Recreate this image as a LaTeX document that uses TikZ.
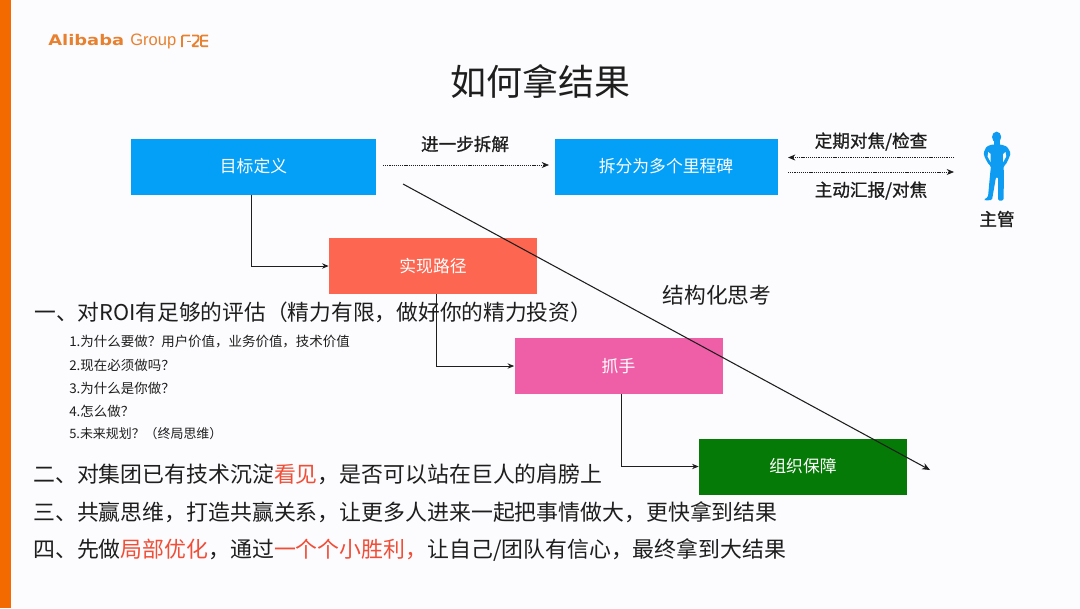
\documentclass[tikz,border=0pt]{standalone}
\usepackage{fontspec}
\setmainfont{Noto Sans CJK SC}
\newfontfamily\capfont[FakeBold=1]{Noto Sans CJK SC}
\newfontfamily\logofont{Liberation Sans}
\newfontfamily\logobold[FakeStretch=1.22]{DejaVu Sans}
\usetikzlibrary{arrows.meta}
\definecolor{bgc}{HTML}{FCFCFE}
\definecolor{barc}{HTML}{F26A00}
\definecolor{logoc}{HTML}{E8812F}
\definecolor{bluec}{HTML}{049FF7}
\definecolor{redc}{HTML}{FD6650}
\definecolor{pinkc}{HTML}{EE5FA7}
\definecolor{greenc}{HTML}{067A06}
\definecolor{txtc}{HTML}{1E1E1E}
\definecolor{hlc}{HTML}{F04E37}
\definecolor{personc}{HTML}{0E9CF2}
\newcommand{\fs}[1]{\fontsize{#1}{#1}\selectfont}
\tikzset{
  x=0.75pt,y=-0.75pt,
  boxn/.style={minimum height=56*0.75pt,inner sep=0pt,text=white,font=\fs{12.6}},
  captext/.style={inner sep=0pt,text=txtc,font=\capfont\fs{13.2}},
  bigline/.style={anchor=west,inner sep=0pt,text=txtc,font=\fs{16.42}},
  smallline/.style={anchor=west,inner sep=0pt,text=txtc,font=\fs{10.1}},
  elbow/.style={draw=txtc,line width=0.75pt,-{Stealth[length=5pt,width=4pt]}},
  dotted arrow/.style={draw=txtc,line width=0.6pt,dash pattern=on 0.9pt off 0.7pt,-{Stealth[length=5.5pt,width=4.5pt]}},
  logostroke/.style={logoc,line width=1.4pt,rounded corners=0.8pt},
}
\begin{document}
\begin{tikzpicture}
\useasboundingbox (0,0) rectangle (1080,608);
\fill[bgc] (0,0) rectangle (1080,608);
\fill[barc] (0,0) rectangle (11,608);
% logo
\node[anchor=base west,inner sep=0pt,text=logoc,font=\logobold\fs{11}\bfseries] (logo) at (48,45) {Alibaba};
\node[anchor=base west,inner sep=0pt,text=logoc,font=\logofont\fs{12.4}] (logob) at (130,45) {Group};
\draw[logostroke] (182,47) -- (182,35.5) -- (190,35.5);
\draw[logostroke] (187,41.5) -- (191,41.5);
\draw[logostroke] (192,35.5) -- (198.5,35.5) -- (198.5,40) -- (192,46.2) -- (198.5,46.2);
\draw[logostroke] (208,35.5) -- (201,35.5) -- (201,46.2) -- (208,46.2) (202,40.8) -- (208,40.8);
% title
\node[inner sep=0pt,text=txtc,font=\fs{27}] (title) at (540.5,81) {如何拿结果};
% boxes
\node[boxn,fill=bluec,minimum width=245*0.75pt] (goal) at (253.5,166.5) {目标定义};
\node[boxn,fill=bluec,minimum width=223*0.75pt] (miles) at (666,166.5) {拆分为多个里程碑};
\node[boxn,fill=redc,minimum width=208*0.75pt] (path) at (433,266) {实现路径};
\node[boxn,fill=pinkc,minimum width=208*0.75pt] (grip) at (618.5,366) {抓手};
\node[boxn,fill=greenc,minimum width=208*0.75pt] (org) at (803,466.5) {组织保障};
% person
\fill[personc] (996.6,137) ellipse [x radius=4.6, y radius=5.4];
\fill[personc] (993.5,140) rectangle (1000,146);
\fill[personc,rounded corners=1pt] (992,144.5) -- (986.5,146.5) -- (983.5,153) -- (985,158) -- (989,165) -- (991,166) -- (990,175) -- (988,197) -- (984,199.5) -- (985,200.5) -- (992,200) -- (996,177) -- (998,177) -- (998,200.5) -- (1003.5,200.5) -- (1004,175) -- (1003.5,166) -- (1005.5,165) -- (1009,158) -- (1010.7,153) -- (1007,146.5) -- (1001,144.5) -- cycle;
\fill[bgc] (988.3,152) -- (987.6,156.5) -- (990.6,162) -- (990.6,154) -- cycle;
\fill[bgc] (1005.5,152) -- (1006.2,156.5) -- (1003.2,162) -- (1003.2,154) -- cycle;
\coordinate (personL1) at (954,157.5);
\coordinate (personL2) at (954,172);
\coordinate (milesR1) at (788,157.5);
\coordinate (milesR2) at (788,172);
\coordinate (goalR) at (383,165);
\coordinate (milesL) at (549,165);
\node[captext] (lsplit) at (465,144) {进一步拆解};
\node[captext] (lcheck) at (871,141.5) {定期对焦/检查};
\node[captext] (lreport) at (871,190.5) {主动汇报/对焦};
\node[captext] (lboss) at (997,219) {主管};
\draw[dotted arrow] (goalR) -- (milesL);
\draw[dotted arrow] (personL1) -- (milesR1);
\draw[dotted arrow] (milesR2) -- (personL2);
% structural thinking text
\node[inner sep=0pt,text=txtc,font=\fs{16.3}] (struct) at (717,295) {结构化思考};
% elbows
\coordinate (e1) at (251,194.5);
\coordinate (e2) at (436,294);
\coordinate (e3) at (621,394);
\draw[elbow] (e1) |- (path.west);
\draw[elbow] (e2) |- (grip.west);
\draw[elbow] (e3) |- (org.west);
% long diagonal
\coordinate (diagS) at (403,184);
\coordinate (diagE) at (930,470);
\draw[draw=txtc,line width=0.8pt,-{Stealth[length=6pt,width=5pt]}] (diagS) -- (diagE);
% text
\node[bigline,font=\fs{16.3}] (t1) at (34,312) {一、对ROI有足够的评估（精力有限，做好你的精力投资）};
\node[smallline] (s1) at (69,342) {1.为什么要做？用户价值，业务价值，技术价值};
\node[smallline] (s2) at (69,365) {2.现在必须做吗？};
\node[smallline] (s3) at (69,388) {3.为什么是你做？};
\node[smallline] (s4) at (69,411) {4.怎么做？};
\node[smallline,font=\fs{9.7}] (s5) at (69,434) {5.未来规划？（终局思维）};
\node[bigline] (t2) at (33,474) {二、对集团已有技术沉淀{\color{hlc}看见}，是否可以站在巨人的肩膀上};
\node[bigline] (t3) at (33,512) {三、共赢思维，打造共赢关系，让更多人进来一起把事情做大，更快拿到结果};
\node[bigline] (t4) at (33,550) {四、先做{\color{hlc}局部优化}，通过{\color{hlc}一个个小胜利，}让自己/团队有信心，最终拿到大结果};
\end{tikzpicture}
\end{document}
